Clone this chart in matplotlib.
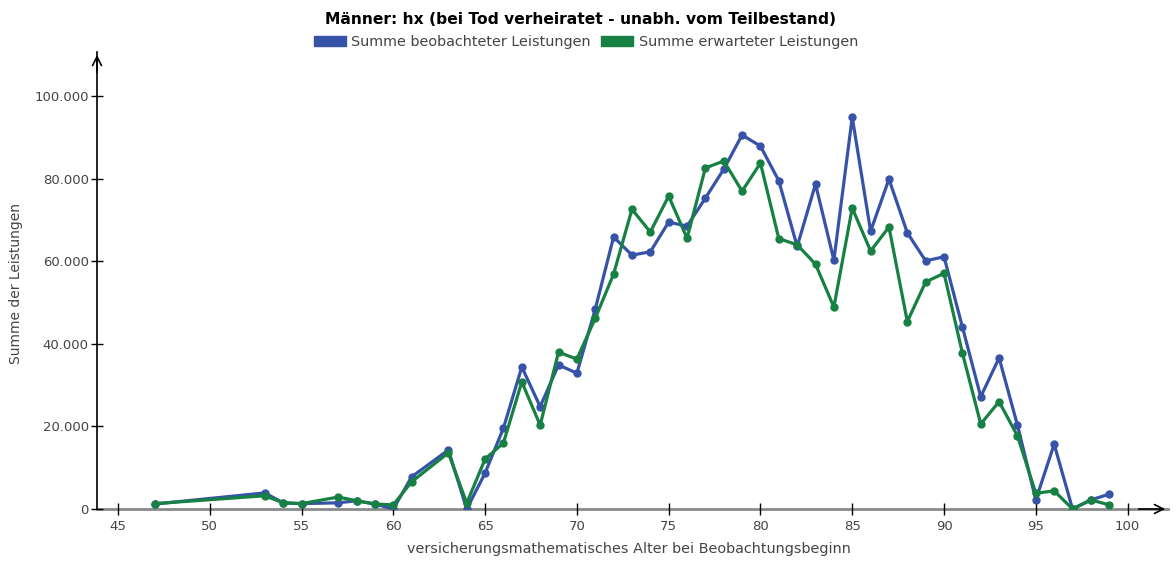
import matplotlib
matplotlib.use("Agg")
import matplotlib.pyplot as plt
from matplotlib.patches import Patch
from matplotlib.ticker import FuncFormatter

# ages with observations
ages = [47, 53, 54, 55, 57, 58, 59, 60, 61, 63, 64, 65, 66, 67, 68, 69, 70,
        71, 72, 73, 74, 75, 76, 77, 78, 79, 80, 81, 82, 83, 84, 85, 86, 87,
        88, 89, 90, 91, 92, 93, 94, 95, 96, 97, 98, 99]

beobachtet = [1200, 3900, 1500, 1300, 1500, 2000, 1200, 0, 7800, 14300, 0,
              8700, 19600, 34400, 24800, 34900, 32900, 48400, 65900, 61500,
              62300, 69500, 68500, 75300, 82300, 90600, 87900, 79500, 63600,
              78700, 60300, 94900, 67300, 79900, 66900, 60100, 61100, 44100,
              27200, 36600, 20300, 2200, 15700, 0, 2200, 3600]

erwartet = [1300, 3200, 1500, 1300, 2900, 2000, 1200, 1000, 6600, 13600, 1400,
            12100, 16000, 30800, 20300, 38000, 36300, 46200, 56900, 72600,
            67100, 75800, 65600, 82600, 84300, 77000, 83800, 65500, 64000,
            59300, 48900, 72900, 62500, 68300, 45400, 55000, 57100, 37800,
            20600, 26000, 17700, 3800, 4400, 0, 2200, 1000]

x_ticks = [45, 50, 55, 60, 65, 70, 75, 80, 85, 90, 95, 100]
y_ticks = [0, 20000, 40000, 60000, 80000, 100000]

BLUE = "#3753a8"
GREEN = "#178043"
TEXT = "#444444"

plt.rcParams["font.family"] = ["DejaVu Sans"]

W, H = 1176, 561
fig = plt.figure(figsize=(W / 100, H / 100), dpi=100)
ax = fig.add_axes([97 / W, (H - 509) / H, (1168 - 97) / W, (509 - 52) / H])

ax.plot(ages, beobachtet, color=BLUE, lw=2.3, marker="o", ms=5, zorder=3)
ax.plot(ages, erwartet, color=GREEN, lw=2.3, marker="o", ms=5, zorder=4)

ax.set_xlim(43.86, 102.2)
ax.set_ylim(0, 110700)
ax.set_xticks(x_ticks)
ax.set_yticks(y_ticks)
ax.yaxis.set_major_formatter(FuncFormatter(lambda v, _: f"{int(v):,}".replace(",", ".")))

for side in ("top", "right"):
    ax.spines[side].set_visible(False)
ax.spines["left"].set_color("black")
ax.spines["left"].set_linewidth(1.2)
ax.spines["bottom"].set_color("#8a8a8a")
ax.spines["bottom"].set_linewidth(2)
ax.spines["bottom"].set_zorder(1)
ax.tick_params(axis="both", direction="inout", length=8, width=1, color="black",
               labelsize=9.5, labelcolor=TEXT, pad=4)
ax.tick_params(axis="y", pad=2)

# axis arrows
ax.annotate("", xy=(0, 1.0), xytext=(0, 0.95), xycoords="axes fraction",
            arrowprops=dict(arrowstyle="->", color="black", lw=1.2, mutation_scale=16),
            annotation_clip=False)
ax.annotate("", xy=(1.0, 0), xytext=(0.97, 0), xycoords="axes fraction",
            arrowprops=dict(arrowstyle="->", color="black", lw=1.2, mutation_scale=16),
            annotation_clip=False)

fig.text(581 / W, 1 - 19 / H, "Männer: hx (bei Tod verheiratet - unabh. vom Teilbestand)",
         ha="center", va="center", fontsize=11.2, fontweight="bold", color="black")
fig.text(629 / W, 1 - 549 / H, "versicherungsmathematisches Alter bei Beobachtungsbeginn",
         ha="center", va="center", fontsize=10.4, color=TEXT)
fig.text(16 / W, 1 - 283 / H, "Summe der Leistungen", rotation=90,
         ha="center", va="center", fontsize=10, color=TEXT)

handles = [Patch(color=BLUE), Patch(color=GREEN)]
fig.legend(handles, ["Summe beobachteter Leistungen", "Summe erwarteter Leistungen"],
           loc="center", bbox_to_anchor=(586 / W, 1 - 42 / H), ncol=2, frameon=False,
           fontsize=10.4, labelcolor=TEXT, handlelength=2.2, handleheight=0.7,
           handletextpad=0.4, columnspacing=0.7, borderpad=0)

fig.savefig("out.png", dpi=100)
